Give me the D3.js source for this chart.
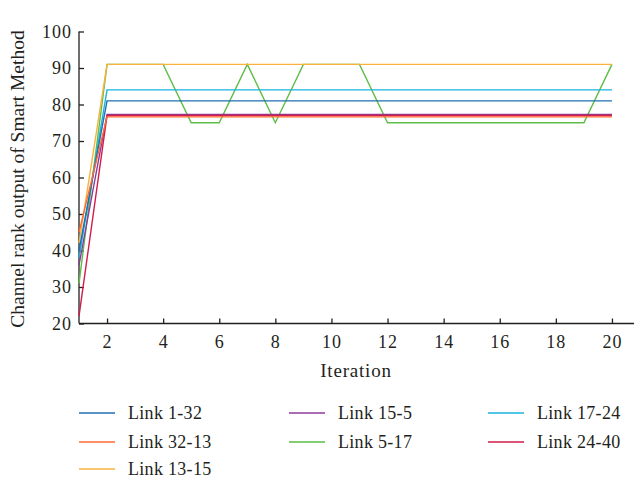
<!DOCTYPE html>
<html>
<head>
<meta charset="utf-8">
<script src="https://cdn.jsdelivr.net/npm/d3@7"></script>
<style>
  body { margin: 0; background: #fff; }
  text { font-family: "Liberation Serif", "DejaVu Serif", serif; fill: #231f20; }
</style>
</head>
<body>
<svg id="chart" width="634" height="481"></svg>
<script>
// iterations 1..20
var iterations = d3.range(1, 21);

var seriesNames = ["Link 1-32", "Link 32-13", "Link 13-15", "Link 15-5", "Link 5-17", "Link 17-24", "Link 24-40"];
var seriesColors = ["#1f6fb2", "#ff6a33", "#f9b23c", "#8c3b9c", "#5dbd47", "#19b3df", "#d01d4a"];

// values
var link1_32  = [40, 81, 81, 81, 81, 81, 81, 81, 81, 81, 81, 81, 81, 81, 81, 81, 81, 81, 81, 81];
var link32_13 = [45, 76.6, 76.6, 76.6, 76.6, 76.6, 76.6, 76.6, 76.6, 76.6, 76.6, 76.6, 76.6, 76.6, 76.6, 76.6, 76.6, 76.6, 76.6, 76.6];
var link13_15 = [42, 91, 91, 91, 91, 91, 91, 91, 91, 91, 91, 91, 91, 91, 91, 91, 91, 91, 91, 91];
var link15_5  = [36, 77.3, 77.3, 77.3, 77.3, 77.3, 77.3, 77.3, 77.3, 77.3, 77.3, 77.3, 77.3, 77.3, 77.3, 77.3, 77.3, 77.3, 77.3, 77.3];
var link5_17  = [31, 91, 91, 91, 75, 75, 91, 75, 91, 91, 91, 75, 75, 75, 75, 75, 75, 75, 75, 91];
var link17_24 = [38, 84, 84, 84, 84, 84, 84, 84, 84, 84, 84, 84, 84, 84, 84, 84, 84, 84, 84, 84];
var link24_40 = [22, 77, 77, 77, 77, 77, 77, 77, 77, 77, 77, 77, 77, 77, 77, 77, 77, 77, 77, 77];

var seriesValues = [link1_32, link32_13, link13_15, link15_5, link5_17, link17_24, link24_40];

var xTicks = [2, 4, 6, 8, 10, 12, 14, 16, 18, 20];
var yTicks = [20, 30, 40, 50, 60, 70, 80, 90, 100];

var svg = d3.select("#chart");

var x = d3.scaleLinear().domain([1, 21]).range([79, 640]);
var y = d3.scaleLinear().domain([20, 100]).range([323.5, 31.5]);

// axes, ticks inward
var xAxis = svg.append("g")
  .attr("transform", "translate(0," + y(20) + ")")
  .call(d3.axisBottom(x).tickValues(xTicks).tickSize(-5).tickPadding(9).tickFormat(d3.format("d")));
xAxis.select(".domain").attr("stroke", "#231f20").attr("stroke-width", 1.3);
xAxis.selectAll(".tick line").attr("stroke", "#231f20").attr("stroke-width", 1.3);
xAxis.selectAll("text").attr("font-size", "18px").attr("letter-spacing", "1px").attr("dy", "0.85em");

var yAxis = svg.append("g")
  .attr("transform", "translate(" + x(1) + ",0)")
  .call(d3.axisLeft(y).tickValues(yTicks).tickSize(-5).tickPadding(7));
yAxis.select(".domain").attr("stroke", "#231f20").attr("stroke-width", 1.3);
yAxis.selectAll(".tick line").attr("stroke", "#231f20").attr("stroke-width", 1.3);
yAxis.selectAll("text").attr("font-size", "18px").attr("letter-spacing", "1px");

// plain domain lines without end caps
xAxis.select(".domain").attr("d", "M" + x(1) + ",0H" + x(21));
yAxis.select(".domain").attr("d", "M0," + y(20) + "V" + y(100));

// lines
var line = d3.line()
  .x(function(d, i) { return x(iterations[i]); })
  .y(function(d) { return y(d); });

var drawOrder = [4, 2, 5, 0, 3, 6, 1];
drawOrder.forEach(function(k) {
  svg.append("path")
    .datum(seriesValues[k])
    .attr("d", line)
    .attr("fill", "none")
    .attr("stroke", seriesColors[k])
    .attr("stroke-width", 1.4);
});

// axis titles
svg.append("text")
  .attr("x", 356)
  .attr("y", 377)
  .attr("text-anchor", "middle")
  .attr("font-size", "19px")
  .attr("letter-spacing", "0.8px")
  .text("Iteration");

svg.append("text")
  .attr("transform", "translate(24," + 179 + ") rotate(-90)")
  .attr("text-anchor", "middle")
  .attr("font-size", "19.5px")
  .text("Channel rank output of Smart Method");

// legend
var legendCols = [79, 289, 488];
var legendRows = [413, 442, 469];
var legendPos = [[0, 0], [0, 1], [0, 2], [1, 0], [1, 1], [2, 0], [2, 1]];

var legend = svg.append("g").selectAll("g")
  .data(seriesNames)
  .enter()
  .append("g")
  .attr("transform", function(d, i) {
    return "translate(" + legendCols[legendPos[i][0]] + "," + legendRows[legendPos[i][1]] + ")";
  });

legend.append("line")
  .attr("x1", 0).attr("x2", 36)
  .attr("y1", 0).attr("y2", 0)
  .attr("stroke", function(d, i) { return seriesColors[i]; })
  .attr("stroke-width", 1.6);

legend.append("text")
  .attr("x", 49)
  .attr("y", 0)
  .attr("dy", "0.35em")
  .attr("font-size", "18px")
  .attr("letter-spacing", "0.3px")
  .text(function(d) { return d; });
</script>
</body>
</html>
